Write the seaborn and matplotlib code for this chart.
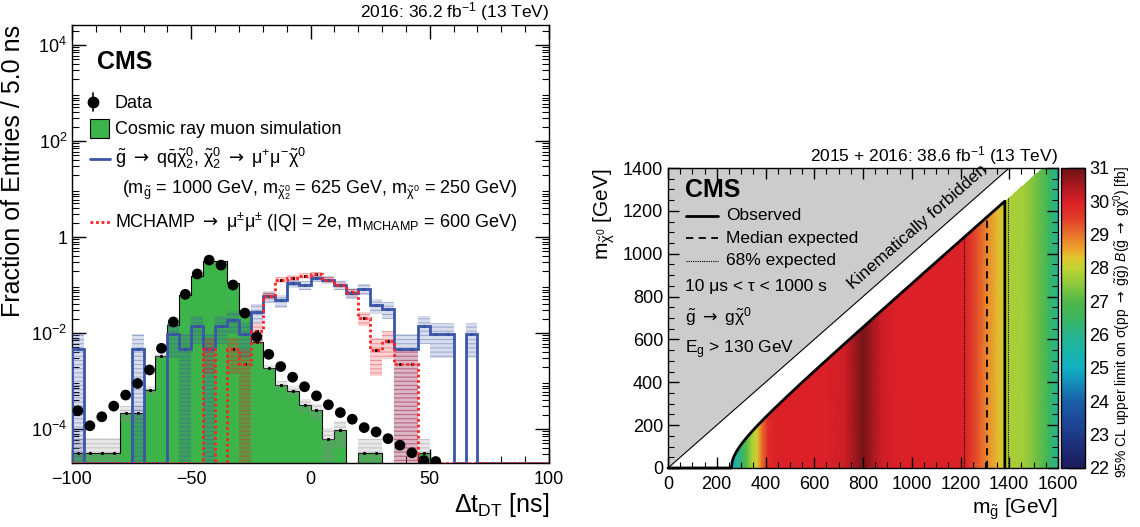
import numpy as np
import matplotlib
matplotlib.use("Agg")
import matplotlib.pyplot as plt
import seaborn as sns
from matplotlib.colors import LinearSegmentedColormap, Normalize
from matplotlib.patches import Polygon, Rectangle
from matplotlib.lines import Line2D
from matplotlib.ticker import FixedLocator, MultipleLocator, LogLocator, NullFormatter

# ---------------------------------------------------------------- data
# Delta t_DT distribution, 5 ns bins from -100 ns to +100 ns
bin_edges = np.arange(-100, 101, 5)

data_frac = [2.4e-4, 1.17e-4, 1.8e-4, 3.0e-4, 5.1e-4, 8.9e-4, 1.7e-3, 4.8e-3,
             1.7e-2, 6.4e-2, 0.17, 0.33, 0.26, 0.10, 0.026, 8.3e-3,
             3.6e-3, 2.0e-3, 1.2e-3, 7.6e-4, 4.9e-4, 3.2e-4, 2.2e-4, 1.6e-4,
             1.07e-4, 8.7e-5, 6.3e-5, 4.6e-5, 3.2e-5, 2.2e-5, 2.1e-5, np.nan,
             np.nan, np.nan, np.nan, np.nan, np.nan, np.nan, np.nan, np.nan]

cosmic_sim = [3.2e-5, 3.2e-5, 3.2e-5, 3.2e-5, 2.2e-4, 2.2e-4, 6.5e-4, 3.3e-3,
              0.015, 0.062, 0.155, 0.32, 0.32, 0.11, 0.025, 6.6e-3,
              1.9e-3, 8.3e-4, 6.3e-4, 3.2e-4, 2.5e-4, 6.2e-5, 9.5e-5, 0,
              3.1e-5, 3.1e-5, 0, 0, 0, 3.1e-5, 0, 0,
              0, 0, 0, 0, 0, 0, 0, 0]

gluino_sig = [4.7e-3, 0, 0, 0, 0, 4.7e-3, 0, 0,
              9.7e-3, 4.7e-3, 0.014, 4.7e-3, 0.014, 0.019, 9.7e-3, 0.028,
              0.06, 0.048, 0.11, 0.10, 0.14, 0.127, 0.10, 0.068,
              0.083, 0.038, 0.032, 4.7e-3, 4.7e-3, 0.014, 9.7e-3, 9.7e-3,
              0, 9.7e-3, 0, 0, 0, 0, 0, 0]

mchamp_sig = [0, 0, 0, 0, 0, 0, 0, 0,
              0, 0, 0, 4.7e-3, 0, 4.7e-3, 2.3e-3, 0.011,
              0.06, 0.127, 0.14, 0.155, 0.17, 0.13, 0.10, 0.07,
              0.021, 4.5e-3, 6.9e-3, 2.3e-3, 2.3e-3, 0, 0, 0,
              0, 0, 0, 0, 0, 0, 0, 0]

# weight of a single simulated event in each normalised sample
event_weight = {"cosmic": 3.1e-5, "gluino": 4.7e-3, "mchamp": 2.3e-3}

# gluino limit map: cross-section limit [fb] versus gluino mass [GeV]
limit_mgluino = [255, 265, 290, 320, 345, 365, 385, 410, 450, 550, 650, 720,
                 760, 800, 840, 880, 950, 1100, 1200, 1230, 1270, 1310, 1350,
                 1385, 1400, 1460, 1510, 1560, 1600]
limit_xsec = [24.7, 25.0, 26.0, 27.0, 27.8, 28.2, 29.0, 29.8, 30.0, 30.0, 30.0, 30.1,
              30.5, 30.9, 30.5, 30.1, 30.0, 30.0, 30.0, 29.8, 29.3, 28.8, 28.4,
              28.1, 27.8, 27.7, 27.3, 26.6, 25.9]

obs_limit = 1382          # observed gluino mass limit [GeV]
exp_limit = 1310          # median expected
exp_band = [1216, 1395]   # 68% expected
E_GLUON_MIN = 130.0       # gluon energy threshold [GeV]

# ---------------------------------------------------------------- style
sns.set_theme(style="ticks", rc={
    "axes.edgecolor": "black", "axes.linewidth": 1.0,
    "xtick.color": "black", "ytick.color": "black",
    "xtick.direction": "in", "ytick.direction": "in",
    "text.color": "black", "axes.labelcolor": "black",
    "hatch.linewidth": 0.7,
})
plt.rcParams["font.family"] = ["Liberation Sans", "DejaVu Sans"]
plt.rcParams["mathtext.fontset"] = "custom"
plt.rcParams["mathtext.rm"] = "Liberation Sans"
plt.rcParams["mathtext.it"] = "Liberation Sans:italic"
plt.rcParams["mathtext.bf"] = "Liberation Sans:bold"
plt.rcParams["mathtext.sf"] = "DejaVu Sans"   # used for the arrows
plt.rcParams["mathtext.default"] = "regular"

ARR = r"\ \mathsf{\rightarrow}\ "
GREEN = "#3cb44a"
BLUE = "#3b56a8"
RED = "#ff2222"
FS = 13

W, H = 1140, 527
fig = plt.figure(figsize=(W / 100, H / 100), dpi=100)


def axes_px(x0, y0, x1, y1):
    return fig.add_axes([x0 / W, 1 - y1 / H, (x1 - x0) / W, (y1 - y0) / H])


def fx(x):
    return x / W


def fy(y):
    return 1 - y / H


axL = axes_px(72, 25, 549, 463)
axR = axes_px(668, 168, 1058, 468)
cax = axes_px(1061, 168, 1085, 468)

# ---------------------------------------------------------------- left panel
YMIN, YMAX = 10 ** -4.708, 10 ** 4.417
edges = bin_edges.astype(float)
centers = 0.5 * (edges[:-1] + edges[1:])
axL.set_yscale("log")
axL.set_xlim(-100, 100)
axL.set_ylim(YMIN, YMAX)

cos = np.array(cosmic_sim, float)
glu = np.array(gluino_sig, float)
mch = np.array(mchamp_sig, float)
dat = np.array(data_frac, float)
floor = YMIN * 1e-3

# cosmic ray simulation, filled
axL.stairs(np.where(cos > 0, cos, floor), edges, baseline=floor, fill=True,
           facecolor=GREEN, edgecolor="none", zorder=1)
axL.stairs(np.where(cos > 0, cos, floor), edges, baseline=floor, fill=False,
           edgecolor="black", linewidth=0.8, zorder=1.5)


def stat_band(ax, vals, w, color, z, face_alpha=0.22, hatch_alpha=0.45):
    m = vals > 0
    err = np.sqrt(vals[m] * w)
    lo = np.maximum(vals[m] - err, floor)
    hi = vals[m] + err
    ax.bar(centers[m], hi - lo, bottom=lo, width=5, align="center",
           facecolor=matplotlib.colors.to_rgba(color, face_alpha),
           edgecolor=matplotlib.colors.to_rgba(color, hatch_alpha),
           hatch="----", linewidth=0, zorder=z)
    # bin centre markers
    ax.plot(centers[m], vals[m], linestyle="none", marker="s", markersize=1.2,
            color="black", zorder=z + 0.1)


stat_band(axL, cos, event_weight["cosmic"], "#8a8a8a", 2, 0.2, 0.4)
stat_band(axL, glu, event_weight["gluino"], BLUE, 3, 0.2, 0.4)
stat_band(axL, mch, event_weight["mchamp"], "#e8202a", 4, 0.2, 0.4)

axL.stairs(np.where(glu > 0, glu, YMIN), edges, baseline=YMIN, fill=False,
           edgecolor=BLUE, linewidth=2.0, zorder=5)
axL.stairs(np.where(mch > 0, mch, YMIN), edges, baseline=YMIN, fill=False,
           edgecolor=RED, linewidth=2.0, linestyle=(0, (1.0, 1.0)), zorder=6)

mask = ~np.isnan(dat)
sns.scatterplot(x=centers[mask], y=dat[mask], ax=axL, color="black", s=60,
                edgecolor="none", zorder=10, legend=False)

axL.set_xticks([-100, -50, 0, 50, 100])
axL.set_xticklabels(["\u2212100", "\u221250", "0", "50", "100"])
axL.xaxis.set_minor_locator(MultipleLocator(10))
axL.yaxis.set_major_locator(FixedLocator([1e-4, 1e-2, 1, 1e2, 1e4]))
axL.set_yticklabels([r"$10^{-4}$", r"$10^{-2}$", "1", r"$10^{2}$", r"$10^{4}$"])
axL.yaxis.set_minor_locator(LogLocator(base=10, subs=np.arange(2, 10), numticks=40))
axL.yaxis.set_minor_formatter(NullFormatter())
axL.tick_params(which="both", direction="in", top=True, right=True, labelsize=13)
axL.tick_params(which="major", length=10, width=1)
axL.tick_params(which="minor", length=5, width=0.8)
axL.tick_params(axis="x", pad=6)
axL.set_ylabel("Fraction of Entries / 5.0 ns", loc="top", fontsize=18, labelpad=4)
axL.set_xlabel(r"$\Delta$t$_{DT}$ [ns]", loc="right", fontsize=18, labelpad=2)

fig.text(fx(549), fy(12), r"2016: 36.2 fb$^{-1}$ (13 TeV)", ha="right", va="center", fontsize=12.5)
fig.text(fx(97), fy(62), "CMS", ha="left", va="center", fontsize=18, fontweight="bold")

# legend
fig.add_artist(Line2D([fx(93)], [fy(102)], marker="o", markersize=7.5, color="black",
                      transform=fig.transFigure))
fig.add_artist(Line2D([fx(93), fx(93)], [fy(93), fy(111)], color="black", lw=1.2,
                      transform=fig.transFigure))
fig.text(fx(115), fy(103), "Data", ha="left", va="center", fontsize=FS)
fig.add_artist(Rectangle((fx(90), fy(138)), fx(19), (19) / H, facecolor=GREEN,
                         edgecolor="black", lw=0.8, transform=fig.transFigure))
fig.text(fx(115), fy(129), "Cosmic ray muon simulation", ha="left", va="center", fontsize=FS)
fig.add_artist(Line2D([fx(90), fx(110)], [fy(159), fy(159)], color=BLUE, lw=2,
                      transform=fig.transFigure))
fig.text(fx(115), fy(158),
         "$\\tilde{g}" + ARR + "q\\bar{q}\\tilde{\\chi}^{0}_{2}$, $\\tilde{\\chi}^{0}_{2}"
         + ARR + "\\mu^{+}\\mu^{-}\\tilde{\\chi}^{0}$",
         ha="left", va="center", fontsize=FS)
fig.text(fx(122), fy(190),
         r"(m$_{\tilde{g}}$ = 1000 GeV, m$_{\tilde{\chi}^{0}_{2}}$ = 625 GeV, m$_{\tilde{\chi}^{0}}$ = 250 GeV)",
         ha="left", va="center", fontsize=FS)
fig.add_artist(Line2D([fx(90), fx(110)], [fy(222), fy(222)], color=RED, lw=2,
                      linestyle=(0, (1.0, 1.0)), transform=fig.transFigure))
fig.text(fx(115), fy(222),
         "MCHAMP$" + ARR + "\\mu^{\\pm}\\mu^{\\pm}$ (|Q| = 2e, m$_{MCHAMP}$ = 600 GeV)",
         ha="left", va="center", fontsize=FS)

# ---------------------------------------------------------------- right panel
axR.set_xlim(0, 1600)
axR.set_ylim(0, 1400)
axR.set_facecolor("white")

# kinematically forbidden region
axR.add_patch(Polygon([(0, 0), (1400, 1400), (0, 1400)], closed=True,
                      facecolor="#cccccc", edgecolor="none", zorder=0))
axR.plot([0, 1400], [0, 1400], color="black", lw=0.8, zorder=1)

# region with E_g above threshold: m_chi < sqrt(m_g^2 - 2 E m_g)
mg_c = np.linspace(2 * E_GLUON_MIN, 1600, 600)
mchi_c = np.sqrt(np.clip(mg_c ** 2 - 2 * E_GLUON_MIN * mg_c, 0, None))
verts = [(2 * E_GLUON_MIN, 0)] + list(zip(mg_c, np.minimum(mchi_c, 1400))) + [(1600, 1400), (1600, 0)]
region = Polygon(verts, closed=True, transform=axR.transData)

stops = [(22.0, "#1c1c5a"), (23.0, "#1f3a8a"), (24.0, "#1a5fa8"), (24.5, "#1489b8"),
         (25.0, "#10b0c4"), (25.5, "#18b4a8"), (26.0, "#28b48c"), (26.5, "#3cb460"),
         (27.0, "#50b848"), (27.5, "#8cc83c"), (28.0, "#c0d432"), (28.3, "#e0c830"),
         (28.6, "#eca02c"), (29.0, "#e8742c"), (29.5, "#e23c28"), (30.0, "#dc2028"),
         (30.5, "#a81820"), (31.0, "#6e1414")]
cmap = LinearSegmentedColormap.from_list("limit", [((v - 22) / 9, c) for v, c in stops])
norm = Normalize(22, 31)

MG, MCHI = np.meshgrid(np.array(limit_mgluino, float), [0.0, 1400.0])
Z = np.vstack([limit_xsec, limit_xsec])
mesh = axR.pcolormesh(MG, MCHI, Z, shading="gouraud", cmap=cmap, norm=norm, zorder=0.5)
mesh.set_clip_path(region)


def edge_curve(mg):
    return np.sqrt(mg ** 2 - 2 * E_GLUON_MIN * mg)


# observed limit contour
mg_obs = np.linspace(2 * E_GLUON_MIN, obs_limit, 300)
axR.plot(np.r_[0, mg_obs, obs_limit], np.r_[0, edge_curve(mg_obs), 0],
         color="black", lw=2.0, zorder=4, clip_on=False)
axR.plot([exp_limit, exp_limit], [0, edge_curve(exp_limit)], color="black",
         lw=1.3, linestyle=(0, (4, 3)), zorder=4)
for m in exp_band:
    axR.plot([m, m], [0, edge_curve(m)], color="black", lw=0.8,
             linestyle=(0, (1, 1)), zorder=4)

axR.text(1026, 1126, "Kinematically forbidden", rotation=41.3, ha="center", va="center",
         fontsize=12.5, rotation_mode="anchor")

axR.xaxis.set_major_locator(MultipleLocator(200))
axR.xaxis.set_minor_locator(MultipleLocator(50))
axR.yaxis.set_major_locator(MultipleLocator(200))
axR.yaxis.set_minor_locator(MultipleLocator(50))
axR.tick_params(which="both", direction="in", top=True, right=True, labelsize=13)
axR.tick_params(which="major", length=8, width=1)
axR.tick_params(which="minor", length=4, width=0.8)
axR.tick_params(axis="x", pad=6)
axR.set_xlabel(r"m$_{\tilde{g}}$ [GeV]", loc="right", fontsize=15, labelpad=2)
axR.set_ylabel(r"m$_{\tilde{\chi}^{0}}$ [GeV]", loc="top", fontsize=15, labelpad=4)
for s in axR.spines.values():
    s.set_zorder(6)

cb = fig.colorbar(mesh, cax=cax)
cb.outline.set_linewidth(1.0)
cb.set_ticks(np.arange(22, 32, 1))
cax.tick_params(direction="in", length=12, width=1, labelsize=13, right=True, pad=3)

fig.text(fx(1122), fy(166),
         "95% CL upper limit on $\\sigma$(pp$" + ARR + "\\tilde{g}\\tilde{g}$) $\\mathit{B}$($\\tilde{g}"
         + ARR + "g\\tilde{\\chi}^{0}$) [fb]",
         rotation=90, ha="center", va="top", fontsize=10)

fig.text(fx(1058), fy(156), r"2015 + 2016: 38.6 fb$^{-1}$ (13 TeV)", ha="right", va="center", fontsize=12.5)
fig.text(fx(685), fy(190), "CMS", ha="left", va="center", fontsize=18, fontweight="bold")

fig.add_artist(Line2D([fx(686), fx(718)], [fy(216), fy(216)], color="black", lw=2,
                      transform=fig.transFigure))
fig.add_artist(Line2D([fx(686), fx(718)], [fy(238), fy(238)], color="black", lw=1.3,
                      linestyle=(0, (4, 3)), transform=fig.transFigure))
fig.add_artist(Line2D([fx(686), fx(718)], [fy(261), fy(261)], color="black", lw=0.8,
                      linestyle=(0, (1, 1)), transform=fig.transFigure))
fig.text(fx(726), fy(216), "Observed", ha="left", va="center", fontsize=12.5)
fig.text(fx(726), fy(238), "Median expected", ha="left", va="center", fontsize=12.5)
fig.text(fx(726), fy(261), "68% expected", ha="left", va="center", fontsize=12.5)
fig.text(fx(685), fy(286), "10 \u03bcs < \u03c4 < 1000 s", ha="left", va="center", fontsize=12.5)
fig.text(fx(685), fy(317), "$\\tilde{g}" + ARR + "g\\tilde{\\chi}^{0}$", ha="left", va="center", fontsize=12.5)
fig.text(fx(685), fy(350), r"E$_{g}$ > 130 GeV", ha="left", va="center", fontsize=12.5)

fig.savefig("out.png", dpi=100)
